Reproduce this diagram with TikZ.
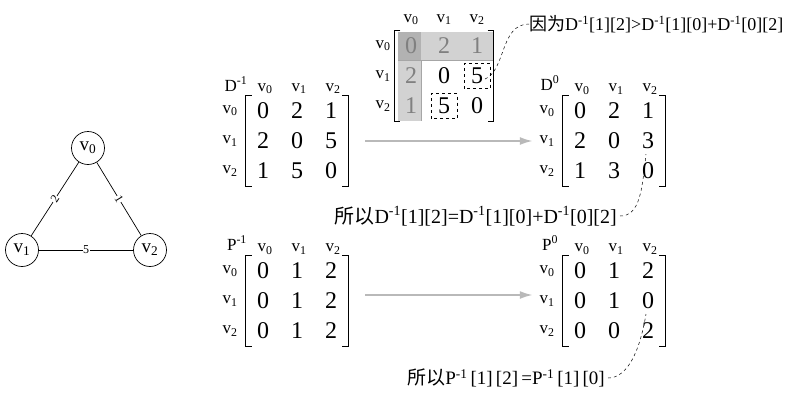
\documentclass[tikz,border=0pt]{standalone}
\usepackage{fontspec}
\setmainfont{Liberation Serif}
\newfontfamily\cjk{Noto Sans CJK SC}
\usetikzlibrary{matrix,arrows.meta}
\tikzstyle{vertex}=[circle, draw, line width=0.7pt, minimum size=33pt, inner sep=0pt, font=\fontsize{19}{19}\selectfont]
\tikzstyle{edge}=[line width=0.7pt]
\tikzstyle{wlabel}=[fill=white, inner sep=0.5pt, font=\fontsize{12}{12}\selectfont]
\tikzstyle{entry}=[minimum width=34pt, minimum height=30pt, inner sep=0pt, font=\fontsize{24}{24}\selectfont]
\tikzstyle{mat}=[matrix of nodes, nodes={entry}, inner sep=0pt, column sep=0pt, row sep=0pt]
\tikzstyle{head}=[inner sep=0pt, font=\fontsize{17}{17}\selectfont]
\tikzstyle{brack}=[line width=1.1pt]
\tikzstyle{flow}=[-{Latex[length=13pt,width=8pt]}, gray!55, line width=2pt]
\tikzstyle{callout}=[dashed, line width=0.5pt]
\tikzstyle{note}=[inner sep=0pt, font=\fontsize{18}{18}\selectfont]
\newcommand{\mbrack}[1]{%
  \draw[brack] ([xshift=6pt]#1.north west) -- (#1.north west) -- (#1.south west) -- ([xshift=6pt]#1.south west);
  \draw[brack] ([xshift=-6pt]#1.north east) -- (#1.north east) -- (#1.south east) -- ([xshift=-6pt]#1.south east);}
\begin{document}
\begin{tikzpicture}[x=1pt, y=-1pt]
				\useasboundingbox (0,0) rectangle (804,400);
				% graph
				\node[vertex] (v0) at (88,148) {v\textsubscript{0}};
				\node[vertex] (v1) at (22,250) {v\textsubscript{1}};
				\node[vertex] (v2) at (150,250) {v\textsubscript{2}};
				\draw[edge] (v0) -- node[wlabel, sloped] {2} (v1);
				\draw[edge] (v0) -- node[wlabel, sloped] {1} (v2);
				\draw[edge] (v1) -- node[wlabel] {5} (v2);

				% D matrices
				\matrix (Dm) [mat] at (297,141) {0 & 2 & 1\\ 2 & 0 & 5\\ 1 & 5 & 0\\};
				\matrix (D0m) [mat] at (614,141) {0 & 2 & 1\\ 2 & 0 & 3\\ 1 & 3 & 0\\};
				\node[head] (Dml) at (236,84) {D\textsuperscript{-1}};
				\node[head] (D0ml) at (550,83) {D\textsuperscript{0}};

				% P matrices
				\matrix (Pm) [mat] at (297,301) {0 & 1 & 2\\ 0 & 1 & 2\\ 0 & 1 & 2\\};
				\matrix (P0m) [mat] at (614,301) {0 & 1 & 2\\ 0 & 1 & 0\\ 0 & 0 & 2\\};
				\node[head] (Pml) at (237,243) {P\textsuperscript{-1}};
				\node[head] (P0ml) at (550,243) {P\textsuperscript{0}};

				\foreach \m in {Dm,D0m,Pm,P0m} {
					\mbrack{\m}
					\foreach \i/\k in {1/0,2/1,3/2} {
						\node[head] (\m c\k) at ([xshift=2pt,yshift=22pt]\m-1-\i.center) {v\textsubscript{\k}};
						\node[head] (\m r\k) at ([xshift=-33pt]\m-\i-1.center) {v\textsubscript{\k}};
					}
				}

				% highlighted D^-1
				\fill[gray!35] (398,32) rectangle (493,60);
				\fill[gray!35] (398,32) rectangle (421,121);
				\fill[gray!60] (398,32) rectangle (421,60);
				\draw[gray!70, line width=0.6pt] (398,60) -- (493,60) -- (493,32);
				\draw[gray!70, line width=0.6pt] (421,60) -- (421,121);
				\matrix (Dt) [mat, nodes={minimum width=33pt}] at (444,76) {
					|[text=gray]| 0 & |[text=gray]| 2 & |[text=gray]| 1\\
					|[text=gray]| 2 & 0 & 5\\
					|[text=gray]| 1 & 5 & 0\\};
				\mbrack{Dt}
				\foreach \i/\k in {1/0,2/1,3/2} {
					\node[head] (Dtc\k) at ([yshift=26pt]Dt-1-\i.center) {v\textsubscript{\k}};
					\node[head] (Dtr\k) at ([xshift=-28pt]Dt-\i-1.center) {v\textsubscript{\k}};
				}
				\draw[callout] ([shift={(-13pt,-12.5pt)}]Dt-2-3.center) rectangle ([shift={(13pt,12.5pt)}]Dt-2-3.center);
				\draw[callout] ([shift={(-13pt,-12.5pt)}]Dt-3-2.center) rectangle ([shift={(13pt,12.5pt)}]Dt-3-2.center);

				% arrows
				\draw[flow] ([xshift=17pt]Dm.east) -- ([xshift=-30pt]D0m.west);
				\draw[flow] ([xshift=17pt,yshift=6pt]Pm.east) -- ([xshift=-30pt,yshift=6pt]P0m.west);

				% notes
				\node[note, anchor=west] (why) at (529,24) {{\cjk 因为}D\textsuperscript{-1}[1][2]>D\textsuperscript{-1}[1][0]+D\textsuperscript{-1}[0][2]};
				\node[note, anchor=east, font=\fontsize{20}{20}\selectfont] (soD) at (617,216) {{\cjk 所以}D\textsuperscript{-1}[1][2]=D\textsuperscript{-1}[1][0]+D\textsuperscript{-1}[0][2]};
				\node[note, anchor=east, font=\fontsize{19}{19}\selectfont] (soP) at (605,378) {{\cjk 所以}P\textsuperscript{-1}\,[1]\,[2]\,=P\textsuperscript{-1}\,[1]\,[0]};
				\coordinate (fiveD) at ([xshift=8pt,yshift=-3pt]Dt-2-3.center);
				\draw[callout] (fiveD) .. controls (506,70) and (500,24) .. (why.west);
				\draw[callout] ([xshift=3pt]soD.east) .. controls (640,216) and (642,190) .. ([xshift=-2pt,yshift=-13pt]D0m-2-3.center);
				\draw[callout] ([xshift=3pt]soP.east) .. controls (628,378) and (640,350) .. ([xshift=-2pt,yshift=-13pt]P0m-2-3.center);
			\end{tikzpicture}
\end{document}
